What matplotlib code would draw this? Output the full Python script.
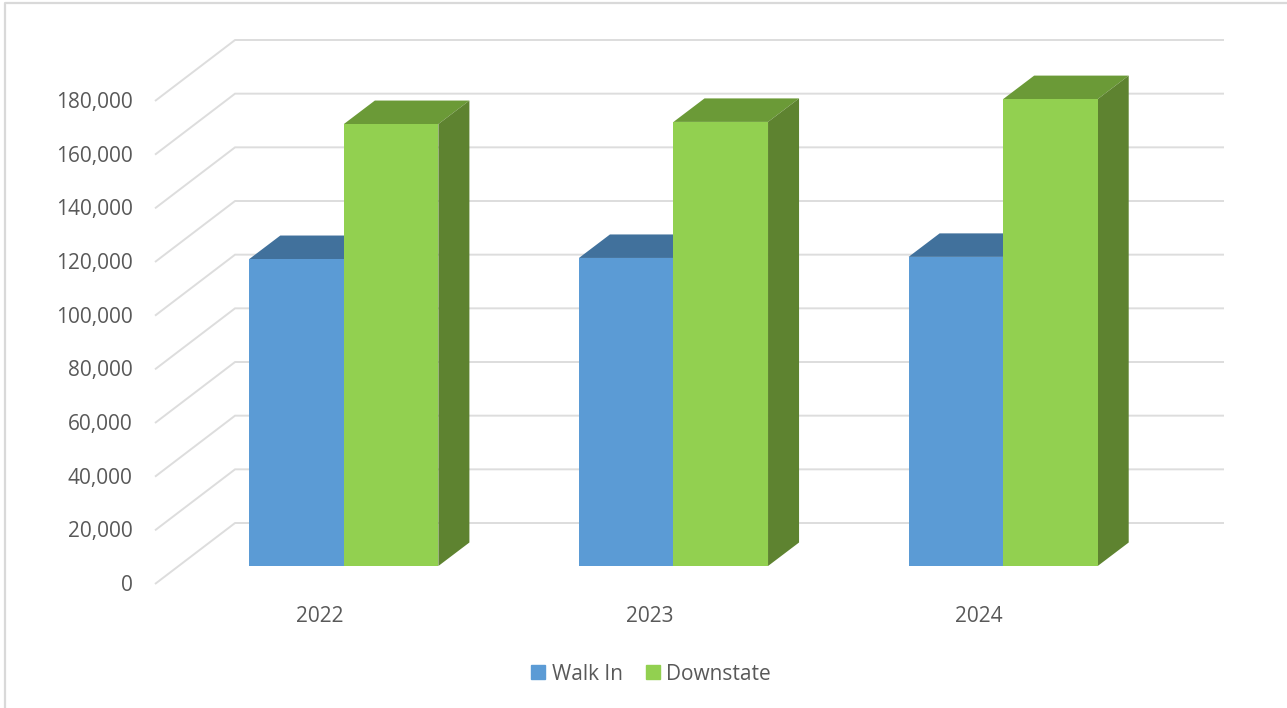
import matplotlib
matplotlib.use("Agg")
import matplotlib.pyplot as plt
from matplotlib.lines import Line2D
from matplotlib.patches import Patch, Polygon
from matplotlib.transforms import ScaledTranslation

years = ["2022", "2023", "2024"]
walk_in = [114400, 114800, 115200]
downstate = [164700, 165500, 174000]
y_ticks = list(range(0, 180001, 20000))

BLUE = "#5B9BD5"
BLUE_TOP = "#41719C"
GREEN = "#92D050"
GREEN_TOP = "#6B9A37"
GREEN_SIDE = "#5E8330"
GRID = "#DDDDDD"
TEXT = "#595959"

plt.rcParams["font.family"] = ["Open Sans", "DejaVu Sans"]

W, H = 1287, 708

# pixel sizes of one category and one y unit
PX_X = 329.5
PX_Y = 483 / 180000

# depth of the chart floor and of the bars, in data units
WALL_DX = 80 / PX_X
WALL_DY = 61 / PX_Y
BAR_SHIFT_X = 24 / PX_X
BAR_LIFT = 18 / PX_Y
BAR_W = 94.5 / PX_X
BAR_DX = 31 / PX_X
BAR_DY = 23.5 / PX_Y

fig = plt.figure(figsize=(W / 100, H / 100), dpi=100, facecolor="white")
ax = fig.add_axes([155 / W, (H - 584) / H, 1069 / W, 544 / H])
ax.set_xlim(-0.5, 2.5 + WALL_DX)
ax.set_ylim(0, WALL_DY + 180000)
ax.patch.set_visible(False)
for s in ax.spines.values():
    s.set_visible(False)

# back wall gridlines with the diagonal part on the left
for v in y_ticks:
    ax.plot(
        [-0.5, -0.5 + WALL_DX, 2.5 + WALL_DX],
        [v, v + WALL_DY, v + WALL_DY],
        color=GRID, lw=1.4, zorder=1, clip_on=False,
        solid_joinstyle="miter", solid_capstyle="butt",
    )


def draw_bars(values, offset, face, top, side):
    for i, v in enumerate(values):
        x0 = i + BAR_SHIFT_X + offset
        x1 = x0 + BAR_W
        y1 = BAR_LIFT + v
        ax.add_patch(Polygon(
            [(x0, y1), (x1, y1), (x1 + BAR_DX, y1 + BAR_DY), (x0 + BAR_DX, y1 + BAR_DY)],
            facecolor=top, edgecolor="none", zorder=3,
        ))
        ax.add_patch(Polygon(
            [(x1, BAR_LIFT), (x1 + BAR_DX, BAR_LIFT + BAR_DY), (x1 + BAR_DX, y1 + BAR_DY), (x1, y1)],
            facecolor=side, edgecolor="none", zorder=3,
        ))
    ax.bar(
        [i + BAR_SHIFT_X + offset for i in range(len(values))],
        values, BAR_W, bottom=BAR_LIFT, align="edge",
        color=face, zorder=3,
    )


draw_bars(walk_in, -BAR_W, BLUE, BLUE_TOP, BLUE_TOP)
draw_bars(downstate, 0, GREEN, GREEN_TOP, GREEN_SIDE)

ax.set_xticks(range(len(years)))
ax.set_xticklabels(years)
ax.set_yticks(y_ticks)
ax.set_yticklabels([f"{v:,}" for v in y_ticks])
ax.tick_params(axis="x", length=0, pad=16, labelsize=15, labelcolor=TEXT)
ax.tick_params(axis="y", length=0, pad=16, labelsize=15, labelcolor=TEXT)

# y labels sit a little above the diagonal ends
up = ScaledTranslation(0, 1 / 100, fig.dpi_scale_trans)
for lab in ax.get_yticklabels():
    lab.set_transform(lab.get_transform() + up)

handles = [Patch(color=BLUE, label="Walk In"), Patch(color=GREEN, label="Downstate")]
fig.legend(
    handles=handles,
    loc="center",
    bbox_to_anchor=(651 / W, (H - 674) / H),
    ncol=2,
    frameon=False,
    fontsize=15,
    labelcolor=TEXT,
    handlelength=0.67,
    handleheight=0.67,
    handletextpad=0.3,
    columnspacing=1.1,
)

# chart frame, only top and left show in the crop
fig.add_artist(Line2D([5 / W, 5 / W, 1], [0, (H - 3) / H, (H - 3) / H], color="#D9D9D9", lw=1.6))

fig.savefig("out.png", dpi=100)
